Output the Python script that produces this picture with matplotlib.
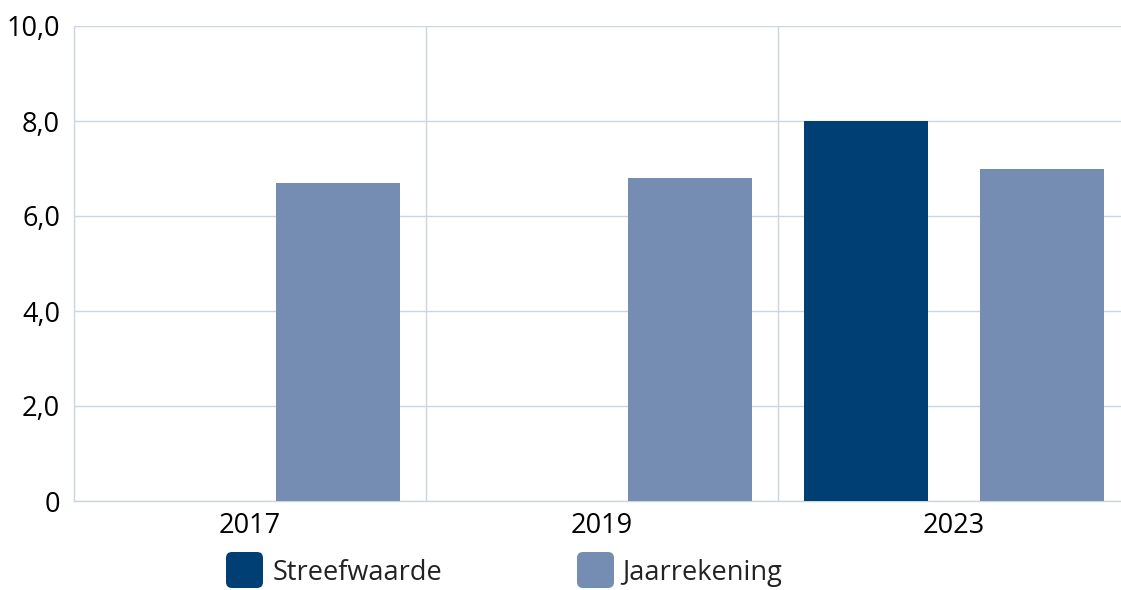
import matplotlib
matplotlib.use("Agg")
import matplotlib.pyplot as plt
import numpy as np
from matplotlib.patches import FancyBboxPatch

plt.rcParams['font.family'] = ['Open Sans', 'DejaVu Sans']

# data
years = ['2017', '2019', '2023']
streefwaarde = [np.nan, np.nan, 8.0]
jaarrekening = [6.7, 6.8, 7.0]
y_ticks = [0, 2, 4, 6, 8, 10]
series_names = ['Streefwaarde', 'Jaarrekening']

dark = '#003f74'
light = '#768db3'
grid_col = '#ccd6e2'

W, H = 1121, 590
fig = plt.figure(figsize=(W / 100, H / 100), dpi=100)
# axes runs a little past the right edge of the picture, like the original
ax = fig.add_axes([74 / W, 89 / H, 1056 / W, (501 - 26) / H])

x = np.arange(len(years))
w = 0.355
ax.bar(x - 0.25, streefwaarde, w, color=dark, zorder=3)
ax.bar(x + 0.25, jaarrekening, w, color=light, zorder=3)

ax.set_xlim(-0.5, 2.5)
ax.set_ylim(0, 10)
ax.set_xticks(x)
ax.set_xticklabels(years, fontsize=19.5)
ax.set_xticks([0.5, 1.5], minor=True)
ax.set_yticks(y_ticks)
ax.set_yticklabels(['0' if v == 0 else ('%.1f' % v).replace('.', ',') for v in y_ticks],
                   fontsize=19.5)
ax.tick_params(which='both', length=0)
ax.tick_params(axis='x', pad=8)
ax.tick_params(axis='y', pad=10)

ax.grid(axis='y', color=grid_col, linewidth=1, zorder=0)
ax.grid(axis='x', which='minor', color=grid_col, linewidth=1, zorder=0)
for s in ['top', 'right']:
    ax.spines[s].set_visible(False)
for s in ['left', 'bottom']:
    ax.spines[s].set_color(grid_col)
    ax.spines[s].set_linewidth(1)

# legend drawn by hand: rounded squares + labels (pixel coords)
for name, col, hx, tx in zip(series_names, [dark, light], [226, 577], [273, 622]):
    box = FancyBboxPatch((hx, 2), 37, 36,
                         boxstyle='round,pad=0,rounding_size=6',
                         facecolor=col, edgecolor='none', transform=None)
    fig.patches.append(box)
    fig.text(tx / W, 10 / H, name, fontsize=19.5, va='baseline', ha='left',
             color='#222222')

fig.savefig('out.png', dpi=100)
